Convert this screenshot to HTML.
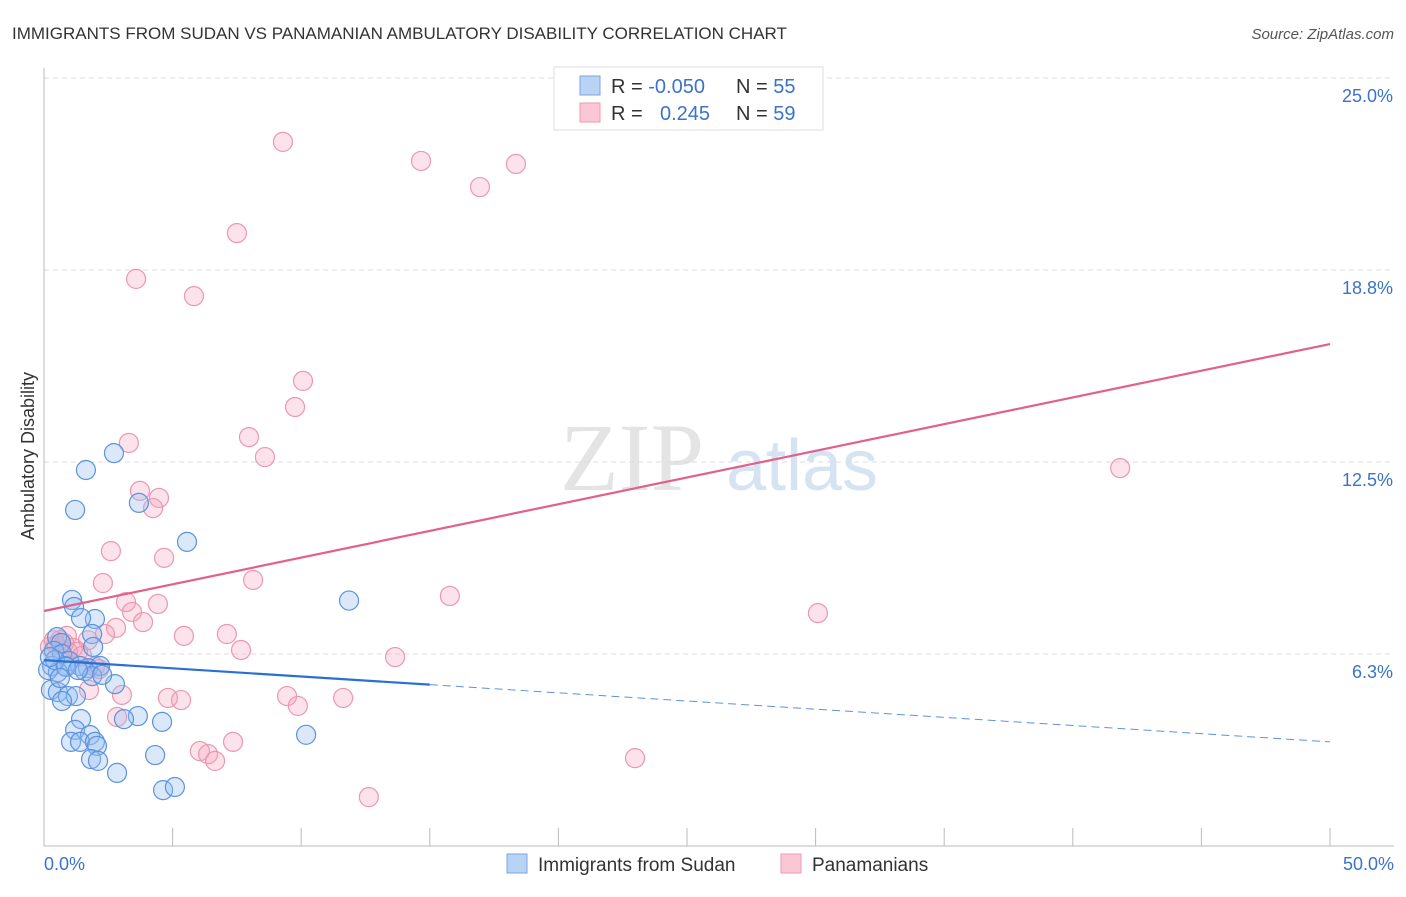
<!DOCTYPE html>
<html><head><meta charset="utf-8"><style>
body{margin:0;background:#fff;font-family:"Liberation Sans",sans-serif;}
</style></head><body>
<svg id="c" width="1406" height="892" xmlns="http://www.w3.org/2000/svg">
<text x="12" y="39" font-size="17" fill="#333">IMMIGRANTS FROM SUDAN VS PANAMANIAN AMBULATORY DISABILITY CORRELATION CHART</text>
<text x="1394" y="39" font-size="15" fill="#555" font-style="italic" text-anchor="end">Source: ZipAtlas.com</text>
<g>
<text x="632" y="490" font-size="96" font-family="Liberation Serif,serif" fill="#e4e4e4" text-anchor="middle">ZIP</text>
<text x="802" y="490" font-size="72" fill="#d5e3f3" text-anchor="middle">atlas</text>
</g>
<g id="grid"></g>
<g id="axes"></g>
<g id="marks"></g>
<g>
<rect x="554" y="67" width="269" height="63" fill="#fff" stroke="#ddd"/>
<rect x="580" y="76" width="20" height="19" fill="#b9d3f5" stroke="#7aa6e4"/>
<rect x="580" y="103" width="20" height="19" fill="#fbc6d5" stroke="#ee99b3"/>
<text x="611" y="93" font-size="20" fill="#333">R = <tspan fill="#3b73c8">-0.050</tspan></text>
<text x="736" y="93" font-size="20" fill="#333">N = <tspan fill="#3b73c8">55</tspan></text>
<text x="611" y="120" font-size="20" fill="#333">R = <tspan fill="#3b73c8" x="660">0.245</tspan></text>
<text x="736" y="120" font-size="20" fill="#333">N = <tspan fill="#3b73c8">59</tspan></text>
</g>
<text x="34" y="456" font-size="18" fill="#333" text-anchor="middle" transform="rotate(-90 34 456)">Ambulatory Disability</text>
<g>
<rect x="507" y="854" width="20" height="19" fill="#b9d3f5" stroke="#7aa6e4"/>
<text x="538" y="871" font-size="19" fill="#333">Immigrants from Sudan</text>
<rect x="781" y="854" width="20" height="19" fill="#fbc6d5" stroke="#ee99b3"/>
<text x="812" y="871" font-size="19" fill="#333">Panamanians</text>
</g>
</svg>
<script>
const xTicks=[0,5,10,15,20,25,30,35,40,45,50];
const yTicks=[6.25,12.5,18.75,25];
const yTickLabels=["6.3%","12.5%","18.8%","25.0%"];
const sudanX=[1.63,2.72,1.21,3.69,5.56,1.09,1.17,1.98,1.44,1.87,0.51,0.66,1.91,0.39,0.70,0.98,0.82,0.31,1.40,1.71,2.18,1.59,0.54,2.76,0.27,0.54,0.93,1.24,0.70,1.44,3.65,4.59,3.11,1.21,1.79,1.05,1.40,1.98,2.06,1.83,2.10,2.84,4.32,4.63,5.09,10.19,11.86,0.16,0.43,0.86,1.87,2.26,0.62,0.23,1.32];
const sudanY=[12.24,12.79,10.94,11.17,9.90,8.01,7.78,7.39,7.42,6.90,6.80,6.61,6.48,6.35,6.25,6.02,5.86,5.86,5.86,5.79,5.86,5.70,5.66,5.27,5.08,5.01,4.88,4.88,4.72,4.13,4.23,4.04,4.13,3.78,3.61,3.39,3.39,3.39,3.26,2.83,2.77,2.38,2.96,1.82,1.92,3.62,7.99,5.73,6.05,5.83,5.53,5.57,5.47,6.15,5.73];
const panX=[9.29,14.66,18.35,16.95,7.50,3.58,5.83,10.07,9.76,3.30,7.97,8.59,41.84,3.73,4.47,4.24,2.60,4.67,8.13,2.29,15.78,3.19,4.43,30.09,3.42,3.85,2.80,2.37,5.44,7.11,7.66,13.65,1.71,0.62,0.78,0.47,1.13,1.32,0.23,0.93,1.48,2.14,1.98,1.75,3.03,4.82,5.33,9.45,9.87,11.63,2.84,7.35,6.06,6.38,6.65,22.98,12.63,0.39,0.89];
const panY=[22.92,22.30,22.20,21.45,19.95,18.46,17.90,15.14,14.29,13.12,13.31,12.66,12.30,11.56,11.33,11.00,9.60,9.38,8.66,8.56,8.14,7.94,7.88,7.58,7.62,7.29,7.10,6.90,6.84,6.90,6.38,6.15,6.70,6.70,6.61,6.54,6.45,6.32,6.48,6.32,6.19,5.76,5.83,5.08,4.92,4.82,4.75,4.88,4.56,4.82,4.20,3.39,3.09,2.99,2.77,2.86,1.59,6.70,6.84];
const sudanTrend=[6.05,3.39];
const panTrend=[7.65,16.34];
const sudanSolidEnd=15;
const NS="http://www.w3.org/2000/svg";
const X=v=>44+v/50*1286;
const Y=v=>846-v*30.72;
function mk(tag,attrs,parent){const e=document.createElementNS(NS,tag);for(const k in attrs)e.setAttribute(k,attrs[k]);parent.appendChild(e);return e;}
const grid=document.getElementById('grid'),axes=document.getElementById('axes'),marks=document.getElementById('marks');
yTicks.forEach((t,i)=>{
 const l=mk('line',{x1:44,x2:1394,y1:Y(t),y2:Y(t),stroke:'#ddd','stroke-dasharray':'5,4'},grid);
 
 
 const tx=mk('text',{x:1393,y:Y(t)+24,'font-size':18,fill:'#3b73c8','text-anchor':'end'},axes);
 tx.textContent=yTickLabels[i];
 
 
});
const ax=mk('line',{x1:44,x2:44,y1:68,y2:846,stroke:'#bbb'},axes);


const bx=mk('line',{x1:44,x2:1394,y1:846,y2:846,stroke:'#bbb'},axes);


xTicks.forEach(t=>{
 const l=mk('line',{x1:X(t),x2:X(t),y1:828,y2:846,stroke:'#bbb'},axes);
 
 
});
const xl0=mk('text',{x:44,y:870,'font-size':18,fill:'#3b73c8'},axes);xl0.textContent=xTicks[0].toFixed(1)+'%';


const xl1=mk('text',{x:1394,y:870,'font-size':18,fill:'#3b73c8','text-anchor':'end'},axes);xl1.textContent=xTicks[xTicks.length-1].toFixed(1)+'%';


panX.forEach((x,i)=>{
 const c=mk('circle',{cx:X(x),cy:Y(panY[i]),r:9.5,fill:'rgba(245,160,185,0.3)',stroke:'#ec97b0','stroke-width':1.2},marks);
 
 
});
sudanX.forEach((x,i)=>{
 const c=mk('circle',{cx:X(x),cy:Y(sudanY[i]),r:9.5,fill:'rgba(150,190,240,0.35)',stroke:'#5c93dc','stroke-width':1.2},marks);
 
 
});
const sAt=v=>sudanTrend[0]+(sudanTrend[1]-sudanTrend[0])*v/50;
const s1=mk('line',{x1:X(0),y1:Y(sudanTrend[0]),x2:X(sudanSolidEnd),y2:Y(sAt(sudanSolidEnd)),stroke:'#2a6fd6','stroke-width':2.2},marks);


const s2=mk('line',{x1:X(sudanSolidEnd),y1:Y(sAt(sudanSolidEnd)),x2:X(50),y2:Y(sudanTrend[1]),stroke:'#5c93dc','stroke-width':1,'stroke-dasharray':'8,5'},marks);


const p1=mk('line',{x1:X(0),y1:Y(panTrend[0]),x2:X(50),y2:Y(panTrend[1]),stroke:'#e2608c','stroke-width':2.2},marks);


</script>
</body></html>
